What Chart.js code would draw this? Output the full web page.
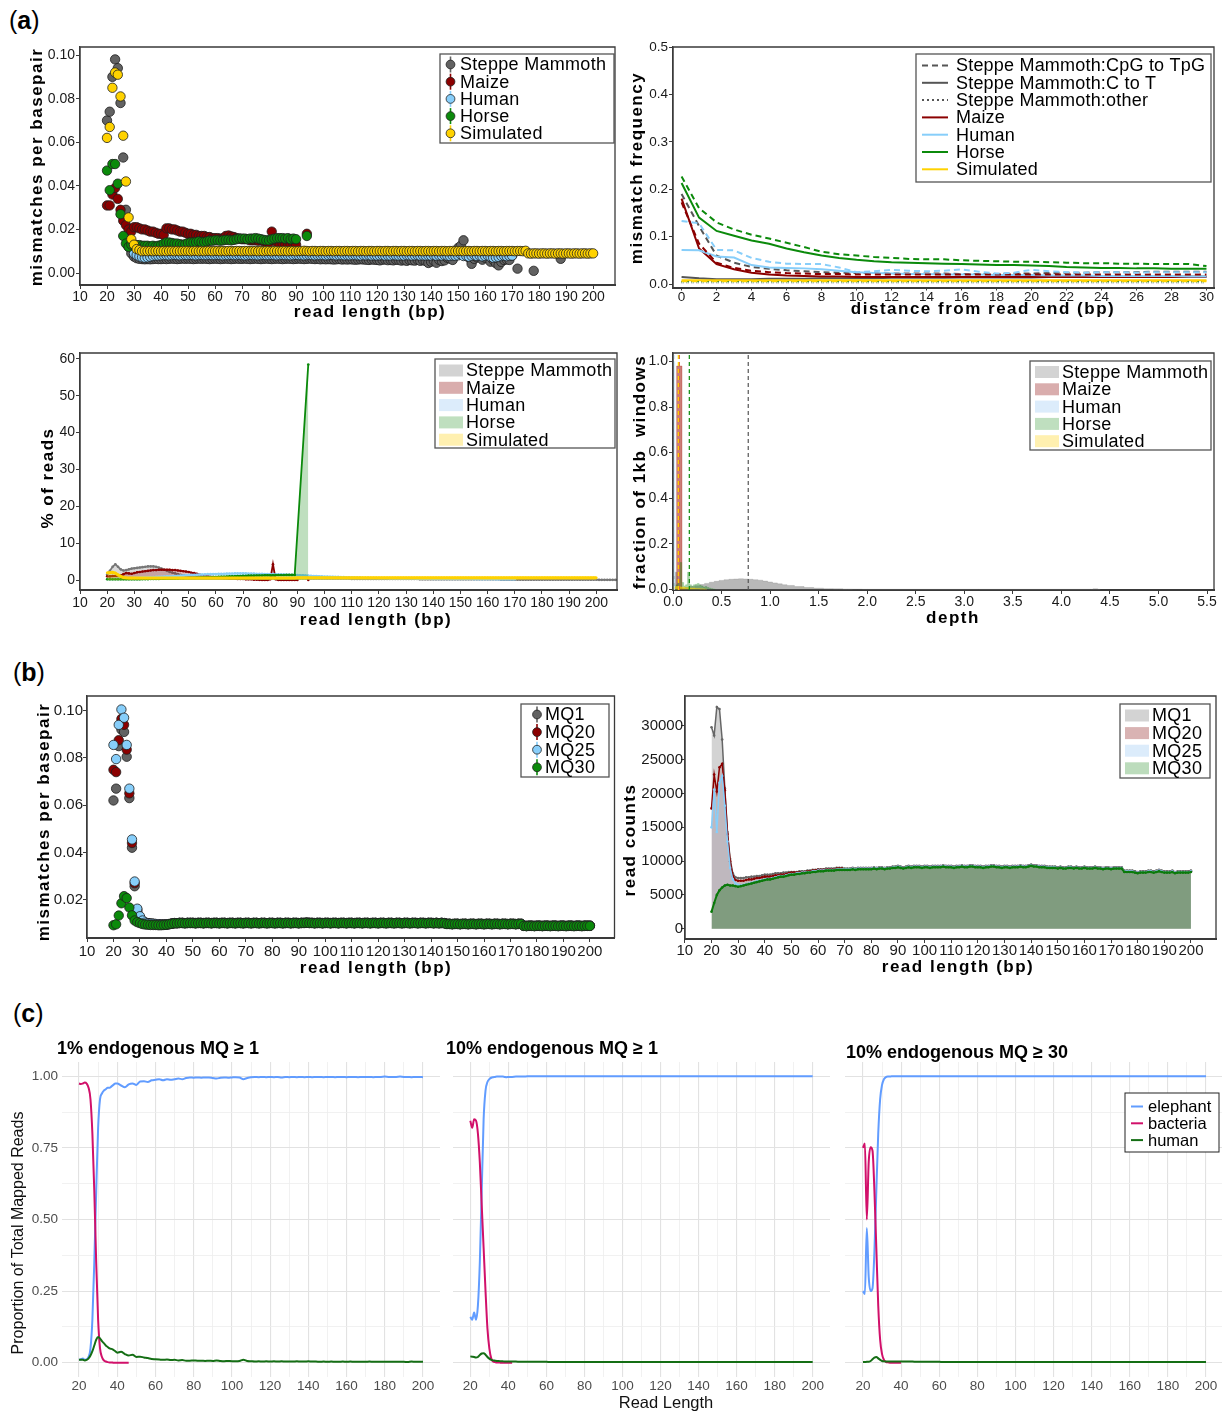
<!DOCTYPE html>
<html><head><meta charset="utf-8">
<script src="https://cdn.jsdelivr.net/npm/chart.js@4/dist/chart.umd.min.js"></script>
<style>
body{margin:0;background:#fff;width:1222px;height:1412px;position:relative;overflow:hidden;font-family:"Liberation Sans",Arial,sans-serif;}
canvas{position:absolute;}
.plab{position:absolute;font-size:25px;line-height:30px;color:#000;font-family:"Liberation Sans",Arial,sans-serif;}
</style></head><body>
<div class="plab" style="left:9px;top:5px">(<b>a</b>)</div>
<div class="plab" style="left:13px;top:657px">(<b>b</b>)</div>
<div class="plab" style="left:13px;top:998px">(<b>c</b>)</div>
<script>
// ---------------- DATA ----------------
const readLengths = [20,21,22,23,24,25,26,27,28,29,30,31,32,33,34,35,36,37,38,39,40,41,42,43,44,45,46,47,48,49,50,51,52,53,54,55,56,57,58,59,60,61,62,63,64,65,66,67,68,69,70,71,72,73,74,75,76,77,78,79,80,81,82,83,84,85,86,87,88,89,90,91,92,93,94,95,96,97,98,99,100,101,102,103,104,105,106,107,108,109,110,111,112,113,114,115,116,117,118,119,120,121,122,123,124,125,126,127,128,129,130,131,132,133,134,135,136,137,138,139,140,141,142,143,144,145,146,147,148,149,150,151,152,153,154,155,156,157,158,159,160,161,162,163,164,165,166,167,168,169,170,171,172,173,174,175,176,177,178,179,180,181,182,183,184,185,186,187,188,189,190,191,192,193,194,195,196,197,198,199,200,201,202,203,204,205,206,207,208,209,210];

// (a) top-left: mismatches per basepair by read length
const a1Steppe = [
.070,.074,.090,.098,.094,.078,.053,.029,.012,.009,
.0075,.0068,.0065,.0064,.0063,.0064,.0063,.0064,.0065,.0064,
.0064,.0065,.0064,.0065,.0066,.0065,.0064,.0065,.0066,.0065,
.0066,.0065,.0064,.0065,.0066,.0065,.0066,.0065,.0064,.0065,
.0066,.0065,.0064,.0065,.0066,.0065,.0064,.0065,.0066,.0065,
.0065,.0066,.0065,.0064,.0065,.0066,.0065,.0064,.0065,.0066,
.0065,.0064,.0065,.0066,.0065,.0064,.0065,.0066,.0065,.0064,
.0065,.0066,.0065,.0064,.0065,.0066,.0065,.0064,.0065,.0063,
.0064,.0063,.0064,.0063,.0062,.0063,.0064,.0062,.0063,.0062,
.0063,.0062,.0061,.0062,.0063,.0062,.0061,.0060,.0062,.0061,
.0060,.0058,.0061,.0062,.0059,.0060,.0058,.0061,.0060,.0057,
.0059,.0056,.0060,.0058,.0057,.0061,.0056,.0059,.0055,.0046,
.0052,.0056,.0047,.0060,.0055,.0058,.0070,.0066,.0060,.0095,
.0115,.0125,.0150,.0085,.0070,.0042,.0065,.0072,.0080,.0061,
.0070,null,.0052,.0060,.0045,.0035,.0051,.0060,.0062,.0060,
.0080,null,.0020,null,null,null,null,null,.0010,null,
null,null,null,null,null,null,null,null,.0065];
const a1Maize = [
.031,.031,.036,.039,.034,.029,.024,.022,.020,.019,
.021,.021,.0205,.020,.020,.0195,.019,.019,.0185,.018,
.018,.0175,.0205,.0205,.020,.020,.0195,.019,.019,.0185,
.018,.018,.0175,.0175,.017,.017,.017,.0165,.0165,.016,
.016,.016,.0158,.016,.017,.0172,.0168,.0165,.016,.0158,
.0155,.0155,.0155,.015,.015,.015,.0148,.015,.0145,.0142,
.014,.019,.015,.014,.013,.0135,.013,.0125,.013,.0135,
.013,null,null,null,.018];
const a1Human = [
null,null,null,null,null,null,null,null,null,null,
.0090,.0082,.0076,.0072,.0070,.0072,.0075,.0078,.0080,.0080,
.0081,.0082,.0082,.0081,.0082,.0083,.0082,.0081,.0082,.0083,
.0082,.0083,.0082,.0081,.0082,.0083,.0082,.0082,.0083,.0082,
.0082,.0083,.0082,.0081,.0082,.0082,.0083,.0082,.0082,.0083,
.0082,.0081,.0082,.0083,.0082,.0082,.0081,.0082,.0083,.0082,
.0082,.0083,.0082,.0081,.0082,.0083,.0082,.0082,.0081,.0082,
.0083,.0082,.0082,.0081,.0082,.0083,.0082,.0081,.0082,.0082,
.0082,.0081,.0082,.0083,.0082,.0081,.0082,.0082,.0081,.0082,
.0081,.0082,.0082,.0081,.0080,.0082,.0081,.0082,.0080,.0081,
.0080,.0081,.0082,.0080,.0081,.0080,.0082,.0081,.0080,.0081,
.0080,.0082,.0081,.0080,.0081,.0082,.0080,.0081,.0080,.0081,
.0080,.0082,.0079,.0081,.0080,.0082,.0080,.0078,.0080,.0079,
.0081,.0085,.0078,.0080,.0075,.0079,.0082,.0078,.0080,.0076,
.0078,.0080,.0075,.0070,.0072,.0074,.0078,.0080,.0077,.0079,
.0080];
const a1Horse = [
.047,.038,.050,.050,.041,.027,.017,.0135,.012,.013,
.013,.0128,.0128,.0125,.0125,.0125,.0122,.0125,.0122,.0125,
.0128,.0135,.014,.014,.0138,.0135,.0135,.0132,.013,.0132,
.0138,.014,.014,.0142,.0145,.0142,.0142,.0145,.0148,.0148,
.015,.015,.0148,.015,.0152,.0152,.015,.0152,.0155,.0158,
.0158,.0158,.0155,.0158,.0158,.016,.0158,.0155,.0152,.015,
.015,.0155,.0158,.016,.016,.016,.0158,.016,.0155,.0158,
.0155,null,null,null,.017];
const a1Simulated = [
.062,.067,.085,.092,.091,.081,.063,.042,.0255,.0155,
.0130,.0110,.0105,.0100,.0101,.0100,.0101,.0100,.0101,.0101,
.0100,.0101,.0100,.0101,.0101,.0100,.0101,.0100,.0101,.0101,
.0101,.0100,.0101,.0101,.0100,.0101,.0100,.0101,.0101,.0100,
.0101,.0101,.0100,.0101,.0100,.0101,.0101,.0100,.0101,.0101,
.0100,.0101,.0101,.0100,.0101,.0101,.0100,.0101,.0100,.0101,
.0101,.0100,.0101,.0101,.0100,.0101,.0101,.0100,.0101,.0101,
.0100,.0101,.0101,.0102,.0101,.0100,.0101,.0101,.0100,.0101,
.0101,.0100,.0101,.0101,.0100,.0101,.0101,.0100,.0101,.0101,
.0100,.0101,.0101,.0100,.0101,.0101,.0100,.0101,.0101,.0100,
.0101,.0101,.0100,.0101,.0101,.0100,.0101,.0101,.0100,.0101,
.0101,.0100,.0101,.0101,.0100,.0101,.0101,.0100,.0101,.0101,
.0100,.0101,.0101,.0100,.0101,.0101,.0100,.0101,.0101,.0100,
.0101,.0101,.0100,.0101,.0101,.0100,.0101,.0101,.0100,.0101,
.0101,.0100,.0101,.0101,.0100,.0101,.0101,.0100,.0101,.0101,
.0101,.0100,.0101,.0101,.0100,.0102,.0090,.0089,.0090,.0090,
.0089,.0090,.0090,.0089,.0090,.0090,.0089,.0090,.0090,.0089,
.0090,.0090,.0089,.0090,.0090,.0089,.0090,.0090,.0089,.0090,
.0090];

// (a) top-right: mismatch frequency by distance from read end
const a2Distance = [0,1,2,3,4,5,6,7,8,9,10,11,12,13,14,15,16,17,18,19,20,21,22,23,24,25,26,27,28,29,30];
const a2SteppeCpG = [.190,.122,.060,.045,.036,.032,.029,.027,.025,.024,.023,.023,.022,.022,.022,.022,.021,.021,.021,.022,.022,.023,.024,.024,.025,.025,.025,.026,.026,.026,.026];
const a2SteppeCT = [.015,.012,.010,.010,.010,.011,.011,.011,.012,.012,.012,.012,.013,.013,.013,.013,.014,.014,.014,.014,.014,.015,.015,.015,.015,.015,.015,.016,.016,.016,.016];
const a2SteppeOther = [.004,.004,.004,.004,.004,.004,.004,.004,.004,.004,.004,.004,.004,.004,.004,.004,.004,.004,.004,.004,.004,.004,.004,.004,.004,.004,.004,.004,.004,.004,.004];
const a2MaizeCpG = [.172,.085,.045,.034,.028,.025,.023,.022,.021,.021,.020,.020,.020,.020,.020,.020,.020,.020,.020,.020,.020,.020,.020,.020,.020,.020,.020,.020,.020,.020,.020];
const a2MaizeCT = [.180,.075,.042,.031,.024,.020,.018,.017,.016,.016,.015,.015,.015,.015,.015,.015,.015,.015,.015,.015,.015,.015,.015,.015,.015,.015,.015,.015,.015,.015,.015];
const a2MaizeOther = [.003,.003,.003,.003,.003,.003,.003,.003,.003,.003,.003,.003,.003,.003,.003,.003,.003,.003,.003,.003,.003,.003,.003,.003,.003,.003,.003,.003,.003,.003,.003];
const a2HumanCpG = [.133,.128,.072,.071,.055,.047,.043,.042,.042,.035,.025,.027,.030,.028,.027,.028,.031,.026,.022,.024,.030,.027,.025,.024,.025,.025,.024,.025,.025,.025,.025];
const a2HumanCT = [.072,.071,.058,.056,.040,.035,.034,.033,.031,.028,.025,.023,.022,.021,.021,.020,.020,.020,.019,.019,.019,.018,.018,.018,.017,.017,.017,.017,.017,.016,.016];
const a2HumanOther = [.003,.003,.003,.003,.003,.003,.003,.003,.003,.003,.003,.003,.003,.003,.003,.003,.003,.003,.003,.003,.003,.003,.003,.003,.003,.003,.003,.003,.003,.003,.003];
const a2HorseCpG = [.227,.160,.130,.115,.104,.096,.087,.078,.068,.063,.060,.057,.055,.053,.052,.052,.050,.049,.048,.047,.047,.046,.045,.044,.044,.043,.043,.042,.042,.042,.038];
const a2HorseCT = [.213,.140,.112,.102,.092,.085,.075,.067,.060,.055,.051,.048,.046,.045,.044,.043,.042,.041,.040,.040,.039,.038,.036,.035,.034,.034,.033,.033,.032,.032,.032];
const a2HorseOther = [.004,.004,.004,.004,.004,.004,.004,.004,.004,.004,.004,.004,.004,.004,.004,.004,.004,.004,.004,.004,.004,.004,.004,.004,.004,.004,.004,.004,.004,.004,.004];
const a2SimCpG = [.006,.006,.006,.006,.006,.006,.006,.006,.006,.006,.006,.006,.006,.006,.006,.006,.006,.006,.006,.006,.006,.006,.006,.006,.006,.006,.006,.006,.006,.006,.006];
const a2SimCT = [.008,.008,.008,.008,.008,.008,.008,.008,.008,.008,.008,.008,.008,.008,.008,.008,.008,.008,.008,.008,.008,.008,.008,.008,.008,.008,.008,.008,.008,.008,.008];
const a2SimOther = [.002,.002,.002,.002,.002,.002,.002,.002,.002,.002,.002,.002,.002,.002,.002,.002,.002,.002,.002,.002,.002,.002,.002,.002,.002,.002,.002,.002,.002,.002,.002];

// (a) middle-left: % of reads by read length
const a3Steppe = [
1.5,2.5,3.6,4.3,3.6,2.9,2.6,2.7,2.9,3.1,
3.2,3.3,3.4,3.5,3.6,3.7,3.7,3.7,3.6,3.4,
3.1,2.8,2.5,2.2,2.0,1.8,1.6,1.4,1.3,1.2,
1.1,1.0,1.0,.9,.9,.9,.8,.8,.8,.8,
.8,.8,.8,.7,.7,.7,.7,.7,.7,.7,
.7,.7,.6,.6,.6,.6,.6,.6,.6,.6,
.6,.6,.5,.5,.5,.5,.5,.5,.5,.5,
.5,.5,.5,.5,.4,.4,.4,.4,.4,.4,
.4,.4,.4,.4,.4,.4,.4,.4,.4,.4,
.3,.3,.3,.3,.3,.3,.3,.3,.3,.3,
.3,.3,.3,.3,.3,.3,.3,.3,.3,.3,
.3,.3,.3,.3,.3,.2,.2,.2,.2,.2,
.2,.2,.2,.2,.2,.2,.2,.2,.2,.2,
.2,.2,.2,.2,.2,.2,.2,.2,.2,.2,
.2,.2,.2,.2,.2,.1,.1,.1,.1,.1,
.1,.1,.1,.1,.1,.1,.1,.1,.1,.1,
.1,.1,.1,.1,.1,.1,.1,.1,.1,.1,
.1,.1,.1,.1,.1,.1,.1,.1,.1,.1,
.1,.05,.05,.05,.05,.05,.05,.05,.05,.05,.05];
const a3Maize = [
1.0,1.0,1.1,1.1,1.0,1.2,1.6,1.9,1.8,1.7,
1.9,2.1,2.2,2.3,2.4,2.5,2.6,2.7,2.7,2.8,
2.8,2.8,2.8,2.8,2.7,2.7,2.6,2.5,2.4,2.3,
2.2,2.0,1.9,1.7,1.5,1.3,1.1,1.0,.9,.8,
.7,.6,.6,.5,.5,.4,.4,.4,.3,.3,
.3,.2,.2,.2,.1,.1,.05,0,0,0,
.2,4.3,.2,0,0,0,0,0,0,0,
0,null,null,null,0];
const a3Human = [
.3,.3,.3,.35,.4,.4,.45,.5,.5,.55,
.6,.6,.65,.7,.7,.75,.8,.8,.85,.9,
.9,.95,1.0,1.0,1.05,1.1,1.15,1.2,1.25,1.3,
1.35,1.4,1.4,1.45,1.5,1.5,1.55,1.6,1.6,1.65,
1.65,1.7,1.7,1.7,1.75,1.75,1.75,1.8,1.8,1.8,
1.8,1.8,1.75,1.75,1.75,1.7,1.7,1.7,1.65,1.65,
1.6,1.6,1.55,1.55,1.5,1.5,1.45,1.45,1.4,1.4,
1.35,1.3,1.3,1.25,1.2,1.15,1.1,1.1,1.05,1.0,
.95,.95,.9,.9,.85,.85,.8,.8,.75,.75,
.7,.7,.65,.65,.6,.6,.6,.55,.55,.55,
.5,.5,.5,.5,.45,.45,.45,.45,.4,.4,
.4,.4,.4,.4,.35,.35,.35,.35,.35,.35,
.3,.3,.3,.3,.3,.3,.3,.3,.3,.3,
.3,.3,.3,.3,.3,.25,.25,.25,.25,.25,
.25,.25,.25,.2,.2,.2,.2,.2,.2,.2,
.2];
const a3Horse = [
.2,.2,.2,.2,.2,.2,.2,.2,.2,.2,
.2,.2,.2,.25,.25,.25,.3,.3,.3,.3,
.35,.35,.4,.4,.4,.45,.45,.5,.5,.55,
.55,.6,.6,.65,.65,.7,.7,.75,.75,.8,
.8,.85,.9,.9,.95,1.0,1.0,1.05,1.1,1.1,
1.15,1.15,1.2,1.2,1.2,1.25,1.25,1.25,1.3,1.3,
1.3,1.3,1.35,1.35,1.35,1.35,1.4,1.4,1.4,1.4,
null,null,null,null,58.5];
const a3Simulated = [
2.0,2.0,2.1,1.9,1.4,1.0,.7,.6,.55,.55,
.55,.55,.55,.55,.55,.55,.55,.55,.55,.55,
.55,.55,.55,.55,.55,.55,.55,.55,.55,.55,
.55,.55,.55,.55,.55,.55,.55,.55,.55,.55,
.55,.55,.55,.55,.55,.55,.55,.55,.55,.55,
.55,.55,.55,.55,.55,.55,.55,.55,.55,.55,
.55,.55,.55,.55,.55,.55,.55,.55,.55,.55,
.6,.6,.6,.6,.6,.6,.6,.6,.6,.6,
.6,.6,.6,.6,.6,.6,.6,.6,.6,.6,
.6,.6,.6,.6,.6,.6,.6,.6,.6,.6,
.6,.6,.6,.6,.6,.6,.6,.6,.6,.6,
.6,.6,.6,.6,.6,.6,.6,.6,.6,.6,
.6,.6,.6,.6,.6,.6,.6,.6,.6,.6,
.6,.6,.6,.6,.6,.6,.6,.6,.6,.6,
.6,.6,.6,.6,.6,.6,.6,.6,.6,.6,
.6,.6,.6,.6,.6,.6,.6,.6,.6,.6,
.6,.6,.6,.6,.6,.6,.6,.6,.6,.6,
.6,.6,.6,.6,.6,.6,.6,.6,.6,.6,
.6];

// (a) middle-right: fraction of 1kb windows by depth (histogram bin centres)
const a4SteppeDepth = [0.00,0.03,0.06,0.10,0.15,0.20,0.25,0.30,0.35,0.40,0.45,0.50,0.55,0.60,0.65,0.70,0.75,0.80,0.85,0.90,0.95,1.00,1.05,1.10,1.15,1.20,1.30,1.40,1.50,1.60,1.70,1.80,1.90,2.00,4.30,4.35,4.40];
const a4SteppeFrac  = [0,.075,.004,.005,.008,.012,.016,.021,.026,.031,.035,.039,.042,.044,.045,.046,.045,.044,.042,.040,.036,.032,.028,.024,.020,.017,.012,.008,.005,.003,.002,.001,.0005,0,0,.002,0];
const a4MaizeDepth = [0.01,0.065,0.12];
const a4MaizeFrac  = [0,.98,0];
const a4HumanDepth = [0.00,0.04];
const a4HumanFrac  = [1.0,0];
const a4HorseDepth = [0.00,0.02,0.04,0.06,0.08,0.10,0.12,0.14,0.16,0.18,0.20,0.22,0.24,0.26,0.28,0.30,0.32,0.34,0.36,0.38,0.40,0.42,0.44];
const a4HorseFrac  = [.005,.01,.02,.03,.118,.03,.015,.02,.075,.02,.015,.02,.022,.025,.018,.015,.01,.012,.008,.005,.003,.001,0];
const a4SimDepth = [0.00,0.05,0.10,0.15,0.20,0.25,0.30,0.35];
const a4SimFrac  = [.01,.012,.01,.008,.006,.004,.002,0];
const a4MeanDepth = { steppe: 0.775, human: 0.012, horse: 0.168, simulated: 0.055, maize: 0.065 };

// (b) left: mismatches per basepair by mapping quality
const b1MQ1 = [
.062,.067,.085,.092,.091,.0805,.063,.042,.0257,.0150,
.0118,.0108,.0102,.0100,.0099,.0098,.0097,.0096,.0095,.0095,
.0095,.0097,.0099,.0101,.0101,.0102,.0102,.0101,.0102,.0102,
.0102,.0101,.0102,.0102,.0101,.0102,.0102,.0101,.0102,.0102,
.0101,.0102,.0102,.0101,.0102,.0102,.0101,.0102,.0102,.0101,
.0102,.0102,.0101,.0102,.0102,.0101,.0102,.0102,.0101,.0102,
.0102,.0101,.0102,.0102,.0101,.0102,.0102,.0101,.0102,.0102,
.0101,.0102,.0102,.0103,.0102,.0102,.0101,.0102,.0102,.0101,
.0102,.0102,.0101,.0102,.0102,.0101,.0102,.0102,.0101,.0102,
.0102,.0101,.0102,.0102,.0101,.0102,.0102,.0101,.0102,.0102,
.0101,.0102,.0102,.0101,.0102,.0102,.0101,.0102,.0102,.0101,
.0102,.0102,.0101,.0102,.0102,.0101,.0102,.0102,.0101,.0102,
.0102,.0101,.0102,.0101,.0102,.0101,.0098,.0098,.0097,.0098,
.0098,.0097,.0098,.0098,.0097,.0098,.0098,.0097,.0098,.0098,
.0097,.0098,.0098,.0097,.0098,.0098,.0097,.0098,.0098,.0097,
.0098,.0098,.0097,.0098,.0098,.0090,.0089,.0090,.0090,.0089,
.0090,.0090,.0089,.0090,.0090,.0089,.0090,.0090,.0089,.0090,
.0090,.0089,.0090,.0090,.0089,.0090,.0090,.0089,.0090,.0090,
.0090];
const b1MQ20 = [
.075,.074,.0875,.0965,.094,.0835,.065,.044,.027,.0158,
.0125,.0110,.0104,.0101,.0099,.0098,.0097,.0096,.0095,.0095,
.0095,.0097,.0099,.0101,.0101,.0102,.0102,.0101,.0102,.0102,
.0102,.0101,.0102,.0102,.0101,.0102,.0102,.0101,.0102,.0102,
.0101,.0102,.0102,.0101,.0102,.0102,.0101,.0102,.0102,.0101,
.0102,.0102,.0101,.0102,.0102,.0101,.0102,.0102,.0101,.0102,
.0102,.0101,.0102,.0102,.0101,.0102,.0102,.0101,.0102,.0102,
.0101,.0102,.0102,.0103,.0102,.0102,.0101,.0102,.0102,.0101,
.0102,.0102,.0101,.0102,.0102,.0101,.0102,.0102,.0101,.0102,
.0102,.0101,.0102,.0102,.0101,.0102,.0102,.0101,.0102,.0102,
.0101,.0102,.0102,.0101,.0102,.0102,.0101,.0102,.0102,.0101,
.0102,.0102,.0101,.0102,.0102,.0101,.0102,.0102,.0101,.0102,
.0102,.0101,.0102,.0101,.0102,.0101,.0098,.0098,.0097,.0098,
.0098,.0097,.0098,.0098,.0097,.0098,.0098,.0097,.0098,.0098,
.0097,.0098,.0098,.0097,.0098,.0098,.0097,.0098,.0098,.0097,
.0098,.0098,.0097,.0098,.0098,.0090,.0089,.0090,.0090,.0089,
.0090,.0090,.0089,.0090,.0090,.0089,.0090,.0090,.0089,.0090,
.0090,.0089,.0090,.0090,.0089,.0090,.0090,.0089,.0090,.0090,
.0090];
const b1MQ25 = [
.0855,.0795,.094,.1005,.097,.0855,.067,.0455,.0277,.0162,
.0130,.0112,.0103,.0100,.0099,.0098,.0097,.0096,.0095,.0095,
.0095,.0097,.0099,.0101,.0101,.0102,.0102,.0101,.0102,.0102,
.0102,.0101,.0102,.0102,.0101,.0102,.0102,.0101,.0102,.0102,
.0101,.0102,.0102,.0101,.0102,.0102,.0101,.0102,.0102,.0101,
.0102,.0102,.0101,.0102,.0102,.0101,.0102,.0102,.0101,.0102,
.0102,.0101,.0102,.0102,.0101,.0102,.0102,.0101,.0102,.0102,
.0101,.0102,.0102,.0103,.0102,.0102,.0101,.0102,.0102,.0101,
.0102,.0102,.0101,.0102,.0102,.0101,.0102,.0102,.0101,.0102,
.0102,.0101,.0102,.0102,.0101,.0102,.0102,.0101,.0102,.0102,
.0101,.0102,.0102,.0101,.0102,.0102,.0101,.0102,.0102,.0101,
.0102,.0102,.0101,.0102,.0102,.0101,.0102,.0102,.0101,.0102,
.0102,.0101,.0102,.0101,.0102,.0101,.0098,.0098,.0097,.0098,
.0098,.0097,.0098,.0098,.0097,.0098,.0098,.0097,.0098,.0098,
.0097,.0098,.0098,.0097,.0098,.0098,.0097,.0098,.0098,.0097,
.0098,.0098,.0097,.0098,.0098,.0090,.0089,.0090,.0090,.0089,
.0090,.0090,.0089,.0090,.0090,.0089,.0090,.0090,.0089,.0090,
.0090,.0089,.0090,.0090,.0089,.0090,.0090,.0089,.0090,.0090,
.0090];
const b1MQ30 = [
.0092,.0096,.0133,.0185,.0215,.0207,.0167,.0134,.0112,.0105,
.0101,.0097,.0095,.0094,.0093,.0093,.0093,.0092,.0092,.0093,
.0094,.0096,.0098,.0100,.0100,.0101,.0101,.0100,.0101,.0101,
.0101,.0100,.0101,.0101,.0100,.0101,.0101,.0100,.0101,.0101,
.0100,.0101,.0101,.0100,.0101,.0101,.0100,.0101,.0101,.0100,
.0101,.0101,.0100,.0101,.0101,.0100,.0101,.0101,.0100,.0101,
.0101,.0100,.0101,.0101,.0100,.0101,.0101,.0100,.0101,.0101,
.0100,.0101,.0101,.0102,.0101,.0101,.0100,.0101,.0101,.0100,
.0101,.0101,.0100,.0101,.0101,.0100,.0101,.0101,.0100,.0101,
.0101,.0100,.0101,.0101,.0100,.0101,.0101,.0100,.0101,.0101,
.0100,.0101,.0101,.0100,.0101,.0101,.0100,.0101,.0101,.0100,
.0101,.0101,.0100,.0101,.0101,.0100,.0101,.0101,.0100,.0101,
.0101,.0100,.0101,.0100,.0101,.0100,.0097,.0097,.0096,.0097,
.0097,.0096,.0097,.0097,.0096,.0097,.0097,.0096,.0097,.0097,
.0096,.0097,.0097,.0096,.0097,.0097,.0096,.0097,.0097,.0096,
.0097,.0097,.0096,.0097,.0097,.0089,.0088,.0089,.0089,.0088,
.0089,.0089,.0088,.0089,.0089,.0088,.0089,.0089,.0088,.0089,
.0089,.0088,.0089,.0089,.0088,.0089,.0089,.0088,.0089,.0089,
.0089];

// (b) right: read counts by mapping quality
const b2MQ1 = [
29800,28600,32800,32500,28000,20800,14300,10300,8200,7600,
7500,7500,7500,7600,7600,7700,7700,7800,7800,7900,
8000,8000,8000,8100,8200,8200,8200,8300,8300,8400,
8400,8400,8400,8500,8500,8500,8600,8600,8700,8700,
8800,8800,8800,8900,8900,8900,8900,9000,9000,9000,
8900,8900,8900,9000,8900,9000,9000,9000,9000,9000,
9000,9100,9000,9100,9100,9000,9100,9100,9200,9200,
9300,9200,9100,9200,9300,9200,9300,9300,9300,9200,
9300,9300,9200,9300,9300,9300,9300,9400,9300,9300,
9300,9200,9300,9300,9400,9300,9300,9400,9400,9300,
9300,9300,9200,9300,9300,9400,9400,9300,9300,9200,
9300,9300,9200,9300,9300,9300,9400,9300,9300,9400,
9500,9400,9400,9300,9300,9300,9200,9200,9200,9200,
9100,9200,9100,9100,9200,9200,9100,9200,9100,9100,
9200,9100,9100,9100,9200,9100,9100,9000,9100,9100,
9000,9100,9100,9100,9100,8600,8600,8600,8600,8500,
8400,8500,8500,8500,8600,8600,8500,8600,8700,8600,
8500,8500,8500,8600,8400,8500,8500,8500,8500,8500,
8600];
const b2MQ20 = [
17800,22800,20300,23900,24400,20500,14000,10000,7800,7200,
7100,7100,7100,7200,7300,7300,7400,7500,7500,7600,
7700,7700,7700,7800,7900,7900,8000,8000,8100,8200,
8300,8300,8300,8300,8400,8400,8500,8500,8600,8600,
8700,8700,8700,8800,8800,8800,8800,8900,8900,8900,
8800,8800,8800,8900,8800,8900,8900,8900,8900,8900,
8900,9000,8900,9000,9000,8900,9000,9000,9100,9100,
9200,9100,9000,9100,9200,9100,9200,9200,9200,9100,
9200,9200,9100,9200,9200,9200,9200,9300,9200,9200,
9200,9100,9200,9200,9300,9200,9200,9300,9300,9200,
9200,9200,9100,9200,9200,9300,9300,9200,9200,9100,
9200,9200,9100,9200,9200,9200,9300,9200,9200,9300,
9400,9300,9300,9200,9200,9200,9100,9100,9100,9100,
9000,9100,9000,9000,9100,9100,9000,9100,9000,9000,
9100,9000,9000,9000,9100,9000,9000,8900,9000,9000,
8900,9000,9000,9000,9000,8500,8500,8500,8500,8400,
8300,8400,8400,8400,8500,8500,8400,8500,8600,8500,
8400,8400,8400,8500,8300,8400,8400,8400,8400,8400,
8500];
const b2MQ25 = [
15000,20600,14300,21600,22600,18200,12900,9000,7300,6700,
6500,6400,6500,6600,6700,6800,6900,7000,7100,7200,
7300,7400,7400,7500,7600,7700,7800,7800,7900,8000,
8100,8100,8200,8200,8300,8300,8400,8400,8500,8500,
8600,8600,8600,8700,8700,8700,8700,8800,8800,8800,
8800,8800,8800,8900,8800,8900,8900,8900,8900,8900,
8900,9000,8900,9000,9000,8900,9000,9000,9100,9100,
9200,9100,9000,9100,9200,9100,9200,9200,9200,9100,
9200,9200,9100,9200,9200,9200,9200,9300,9200,9200,
9200,9100,9200,9200,9300,9200,9200,9300,9300,9200,
9200,9200,9100,9200,9200,9300,9300,9200,9200,9100,
9200,9200,9100,9200,9200,9200,9300,9200,9200,9300,
9400,9300,9300,9200,9200,9200,9100,9100,9100,9100,
9000,9100,9000,9000,9100,9100,9000,9100,9000,9000,
9100,9000,9000,9000,9100,9000,9000,8900,9000,9000,
8900,9000,9000,9000,9000,8500,8500,8500,8500,8400,
8300,8400,8400,8400,8500,8500,8400,8500,8600,8500,
8400,8400,8400,8500,8300,8400,8400,8400,8400,8400,
8500];
const b2MQ30 = [
2500,3800,5000,5700,6100,6400,6500,6400,6400,6300,
6200,6300,6400,6500,6600,6700,6800,6900,7000,7100,
7200,7300,7300,7400,7500,7600,7700,7700,7800,7900,
8000,8000,8100,8100,8200,8200,8300,8300,8400,8400,
8500,8500,8500,8600,8600,8600,8600,8700,8700,8700,
8700,8700,8700,8800,8700,8800,8800,8800,8800,8800,
8800,8900,8800,8900,8900,8800,8900,8900,9000,9000,
9100,9000,8900,9000,9100,9000,9100,9100,9100,9000,
9100,9100,9000,9100,9100,9100,9100,9200,9100,9100,
9100,9000,9100,9100,9200,9100,9100,9200,9200,9100,
9100,9100,9000,9100,9100,9200,9200,9100,9100,9000,
9100,9100,9000,9100,9100,9100,9200,9100,9100,9200,
9300,9200,9200,9100,9100,9100,9000,9000,9000,9000,
8900,9000,8900,8900,9000,9000,8900,9000,8900,8900,
9000,8900,8900,8900,9000,8900,8900,8800,8900,8900,
8800,8900,8900,8900,8900,8400,8400,8400,8400,8300,
8200,8300,8300,8300,8400,8400,8300,8400,8500,8400,
8300,8300,8300,8400,8200,8300,8300,8300,8300,8300,
8400];

// (c) proportion of total mapped reads
const cReadLength = [20,21,22,23,24,25,26,27,28,29,30,31,32,33,34,35,36,37,38,39,40,42,44,46,48,50,52,54,56,58,60,62,64,66,68,70,72,74,76,78,80,82,84,86,88,90,92,94,96,98,100,102,104,106,108,110,112,114,116,118,120,122,124,126,128,130,132,134,136,138,140,142,144,146,148,150,152,154,156,158,160,162,164,166,168,170,172,174,176,178,180,182,184,186,188,190,192,194,196,198,200];
const c1Elephant = [.010,.012,.015,.010,.012,.020,.050,.150,.350,.600,.820,.920,.940,.950,.955,.960,.960,.965,.970,.975,.975,
.968,.962,.972,.975,.970,.982,.983,.980,.986,.988,
.990,.986,.990,.988,.990,.992,.990,.994,.996,.995,
.996,.995,.996,.996,.994,.992,.995,.996,.995,.996,
.997,.996,.990,.994,.997,.998,.997,.998,.997,.998,
.997,.998,.996,.998,.997,.998,.997,.998,.997,.998,
.997,.998,.998,.997,.998,.998,.997,.998,.998,.997,
.998,.998,.997,.998,.998,.998,.997,.998,.998,.999,
.998,.998,.998,.999,.998,.998,.997,.998,.998,.997];
const c1Bacteria = [.975,.973,.975,.978,.975,.960,.920,.800,.600,.350,.150,.050,.020,.008,.004,.002,.001,.001,0,0,0,0,0,0];
const c1Human = [.010,.010,.010,.008,.010,.015,.025,.040,.060,.080,.090,.085,.075,.068,.060,.055,.050,.048,.045,.040,.035,
.038,.030,.025,.028,.020,.021,.018,.016,.013,.012,
.011,.010,.011,.009,.010,.008,.009,.007,.007,.008,
.007,.007,.006,.007,.006,.008,.006,.005,.006,.005,
.005,.006,.010,.006,.005,.004,.005,.004,.005,.004,
.005,.004,.005,.004,.004,.004,.005,.004,.004,.005,
.004,.004,.003,.004,.003,.004,.003,.003,.004,.003,
.004,.003,.003,.003,.003,.004,.003,.003,.003,.003,
.003,.003,.003,.003,.003,.002,.004,.003,.003,.003];
const c2Elephant = [.160,.150,.175,.150,.200,.350,.600,.850,.950,.980,.990,.995,.997,.998,.999,.999,.999,.999,.998,.997,.998,
.998,.999,.999,.999,1,1,1,1,1,1,
1,1,1,1,1,1,1,1,1,1,
1,1,1,1,1,1,1,1,1,1,
1,1,1,1,1,1,1,1,1,1,
1,1,1,1,1,1,1,1,1,1,
1,1,1,1,1,1,1,1,1,1,
1,1,1,1,1,1,1,1,1,1,
1,1,1,1,1,1,1,1,1,1];
const c2Bacteria = [.845,.820,.850,.845,.800,.700,.550,.400,.250,.120,.050,.015,.004,.002,.001,.001,0,0,0,0,0,0];
const c2Human = [.022,.021,.020,.018,.020,.027,.032,.033,.028,.020,.014,.010,.008,.007,.006,.006,.005,.005,.004,.004,.004,
.004,.004,.003,.003,.003,.003,.003,.003,.003,.003,
.002,.002,.002,.002,.002,.002,.002,.002,.002,.002,
.002,.002,.002,.002,.002,.002,.002,.002,.002,.002,
.002,.002,.002,.002,.002,.002,.002,.002,.002,.002,
.002,.002,.002,.002,.002,.002,.002,.002,.002,.002,
.002,.002,.002,.002,.002,.002,.002,.002,.002,.002,
.002,.002,.002,.002,.002,.002,.002,.002,.002,.002,
.002,.002,.002,.002,.002,.002,.002,.002,.002,.002];
const c3Elephant = [.250,.240,.470,.300,.250,.260,.390,.600,.800,.920,.970,.990,.997,.999,.999,1,1,1,1,1,1,
1,1,1,1,1,1,1,1,1,1,
1,1,1,1,1,1,1,1,1,1,
1,1,1,1,1,1,1,1,1,1,
1,1,1,1,1,1,1,1,1,1,
1,1,1,1,1,1,1,1,1,1,
1,1,1,1,1,1,1,1,1,1,
1,1,1,1,1,1,1,1,1,1,
1,1,1,1,1,1,1,1,1,1];
const c3Bacteria = [.750,.765,.500,.700,.752,.740,.600,.400,.200,.080,.030,.010,.003,.001,0,0,0,0,0,0,0];
const c3Human = [.002,.002,.003,.003,.006,.012,.018,.020,.015,.010,.006,.005,.004,.004,.004,.004,.004,.004,.004,.004,.004,
.004,.004,.004,.003,.003,.003,.003,.003,.003,.003,
.002,.002,.002,.002,.002,.002,.002,.002,.002,.002,
.002,.002,.002,.002,.002,.002,.002,.002,.002,.002,
.002,.002,.002,.002,.002,.002,.002,.002,.002,.002,
.002,.002,.002,.002,.002,.002,.002,.002,.002,.002,
.002,.002,.002,.002,.002,.002,.002,.002,.002,.002,
.002,.002,.002,.002,.002,.002,.002,.002,.002,.002,
.002,.002,.002,.002,.002,.002,.002,.002,.002,.002];

// tick values and labels
const readLengthTicks = [10,20,30,40,50,60,70,80,90,100,110,120,130,140,150,160,170,180,190,200];
const readLengthTickLabels = ['10','20','30','40','50','60','70','80','90','100','110','120','130','140','150','160','170','180','190','200'];
const a1YTicks = [0,0.02,0.04,0.06,0.08,0.10];
const a1YLabels = ['0.00','0.02','0.04','0.06','0.08','0.10'];
const a2XTicks = [0,2,4,6,8,10,12,14,16,18,20,22,24,26,28,30];
const a2XLabels = ['0','2','4','6','8','10','12','14','16','18','20','22','24','26','28','30'];
const a2YTicks = [0,0.1,0.2,0.3,0.4,0.5];
const a2YLabels = ['0.0','0.1','0.2','0.3','0.4','0.5'];
const a3YTicks = [0,10,20,30,40,50,60];
const a3YLabels = ['0','10','20','30','40','50','60'];
const a4XTicks = [0,0.5,1,1.5,2,2.5,3,3.5,4,4.5,5,5.5];
const a4XLabels = ['0.0','0.5','1.0','1.5','2.0','2.5','3.0','3.5','4.0','4.5','5.0','5.5'];
const a4YTicks = [0,0.2,0.4,0.6,0.8,1.0];
const a4YLabels = ['0.0','0.2','0.4','0.6','0.8','1.0'];
const b1YTicks = [0.02,0.04,0.06,0.08,0.10];
const b1YLabels = ['0.02','0.04','0.06','0.08','0.10'];
const b2YTicks = [0,5000,10000,15000,20000,25000,30000];
const b2YLabels = ['0','5000','10000','15000','20000','25000','30000'];
const cXTicks = [20,30,40,50,60,70,80,90,100,110,120,130,140,150,160,170,180,190,200];
const cXLabels = ['20','','40','','60','','80','','100','','120','','140','','160','','180','','200'];
const cYTicks = [0,0.125,0.25,0.375,0.5,0.625,0.75,0.875,1.0];
const cYLabels = ['0.00','','0.25','','0.50','','0.75','','1.00'];

// ---------------- RENDERING ----------------
const FONT = '"Liberation Sans", Arial, Helvetica, sans-serif';
const C = { steppe:'#626262', maize:'#8B0000', human:'#87CEFA', horse:'#0B8A0B', sim:'#FFD200' };

function series(xs, ys) { const out = []; for (let i = 0; i < ys.length; i++) out.push({ x: xs[i], y: ys[i] }); return out; }

function makeDeco(spec) {
  return {
    id: 'deco',
    afterDraw(chart) {
      const ctx = chart.ctx, ca = chart.chartArea, ox = spec.ox, oy = spec.oy;
      ctx.save();
      if (spec.frame) {
        ctx.strokeStyle = '#3a3a3a'; ctx.lineWidth = 1.3; ctx.setLineDash([]);
        ctx.beginPath();
        ctx.moveTo(ca.left, ca.bottom); ctx.lineTo(ca.left, ca.top); ctx.lineTo(ca.right, ca.top); ctx.lineTo(ca.right, ca.bottom);
        ctx.stroke();
      }
      (spec.texts || []).forEach(t => {
        ctx.save();
        ctx.font = t.font; ctx.fillStyle = t.color || '#000';
        try { ctx.letterSpacing = t.ls || '0px'; } catch (e) {}
        ctx.textAlign = t.align || 'center'; ctx.textBaseline = 'middle';
        ctx.translate(t.x - ox, t.y - oy);
        if (t.rot) ctx.rotate(-Math.PI / 2);
        ctx.fillText(t.text, 0, 0);
        ctx.restore();
      });
      if (spec.legend) {
        const L = spec.legend;
        const bx = L.x - ox, by = L.y - oy;
        ctx.fillStyle = '#fff'; ctx.fillRect(bx, by, L.w, L.h);
        ctx.strokeStyle = L.border || '#555'; ctx.lineWidth = L.bw || 1.3; ctx.strokeRect(bx, by, L.w, L.h);
        ctx.font = L.font; ctx.textAlign = 'left'; ctx.textBaseline = 'middle';
        try { ctx.letterSpacing = L.ls || '0px'; } catch (e) {}
        L.items.forEach((it, r) => {
          const ds = chart.data.datasets[it.ds];
          const cy = L.row0 - oy + r * L.rowH;
          const mx = L.mx - ox;
          ctx.save();
          if (it.mark === 'pt') {
            ctx.strokeStyle = ds.pointBackgroundColor; ctx.lineWidth = 1.6;
            ctx.beginPath(); ctx.moveTo(mx, cy - 8); ctx.lineTo(mx, cy + 8); ctx.stroke();
            ctx.beginPath(); ctx.arc(mx, cy, 4.4, 0, Math.PI * 2); ctx.fillStyle = ds.pointBackgroundColor; ctx.fill();
            ctx.strokeStyle = '#222'; ctx.lineWidth = 0.8; ctx.stroke();
          } else if (it.mark === 'line') {
            ctx.strokeStyle = ds.borderColor; ctx.lineWidth = it.lw || 2; ctx.setLineDash(ds.borderDash || []);
            ctx.beginPath(); ctx.moveTo(mx - L.half, cy); ctx.lineTo(mx + L.half, cy); ctx.stroke();
          } else {
            ctx.fillStyle = it.swatch; ctx.fillRect(mx - L.half, cy - 6, 2 * L.half, 12);
          }
          ctx.restore();
          ctx.fillStyle = '#000';
          ctx.fillText(ds.label, L.tx - ox, cy + 1);
        });
      }
      ctx.restore();
    }
  };
}

function mk(box, area, cfg, spec) {
  const c = document.createElement('canvas');
  c.width = box.w; c.height = box.h;
  Object.assign(c.style, { left: box.l + 'px', top: box.t + 'px', width: box.w + 'px', height: box.h + 'px' });
  document.body.appendChild(c);
  const o = cfg.options;
  o.responsive = false; o.animation = false; o.devicePixelRatio = 1;
  o.layout = { padding: { left: 0, top: area.t - box.t, right: box.l + box.w - area.r, bottom: 0 } };
  o.plugins = Object.assign({ legend: { display: false }, tooltip: { enabled: false } }, o.plugins || {});
  const xh = box.t + box.h - area.b, yw = area.l - box.l;
  o.scales.x.afterFit = s => { s.height = xh; s.paddingLeft = 0; s.paddingRight = 0; };
  o.scales.y.afterFit = s => { s.width = yw; s.paddingTop = 0; s.paddingBottom = 0; };
  spec.ox = box.l; spec.oy = box.t;
  cfg.plugins = [makeDeco(spec)];
  return new Chart(c, cfg);
}

function boxAxis(min, max, ticks, labels, fs, pad, bw, tl) {
  return {
    type: 'linear', min, max,
    afterBuildTicks: s => { s.ticks = ticks.map(v => ({ value: v })); },
    grid: { drawOnChartArea: false, drawTicks: true, tickLength: tl || 4, tickWidth: 1, tickColor: '#3a3a3a' },
    border: { display: true, color: '#3a3a3a', width: bw },
    ticks: { autoSkip: false, maxRotation: 0, minRotation: 0, font: { family: FONT, size: fs }, color: '#1a1a1a', padding: pad, callback: (v, i) => labels[i] }
  };
}
function ggAxis(min, max, ticks, labels, show, pad) {
  return {
    type: 'linear', min, max,
    afterBuildTicks: s => { s.ticks = ticks.map(v => ({ value: v })); },
    grid: { drawTicks: false, color: c => (c.index % 2 === 0 ? '#e2e2e2' : '#ededed'), lineWidth: c => (c.index % 2 === 0 ? 1.1 : 0.8) },
    border: { display: false },
    ticks: { display: show, autoSkip: false, maxRotation: 0, minRotation: 0, font: { family: FONT, size: 13.5 }, color: '#4d4d4d', padding: pad, callback: (v, i) => labels[i] }
  };
}

const TITLE = 'bold 17px ' + FONT;
const LEG = '18px ' + FONT;

// ---- a1
function ptSet(label, ys, color, order) {
  return { type: 'scatter', label, data: series(readLengths, ys), order, pointRadius: 4.7, pointBackgroundColor: color, backgroundColor: color, pointBorderColor: '#1e1e1e', pointBorderWidth: 0.8 };
}
mk({ l: 0, t: 40, w: 628, h: 285 }, { l: 80, t: 47, r: 615, b: 285 }, {
  type: 'scatter',
  data: { datasets: [
    ptSet('Steppe Mammoth', a1Steppe, C.steppe, 4),
    ptSet('Maize', a1Maize, C.maize, 3),
    ptSet('Human', a1Human, C.human, 2),
    ptSet('Horse', a1Horse, C.horse, 1),
    ptSet('Simulated', a1Simulated, C.sim, 0)
  ] },
  options: { scales: {
    x: boxAxis(10, 208.1, readLengthTicks, readLengthTickLabels, 14, -0.7, 2),
    y: boxAxis(-0.0055, 0.1037, a1YTicks, a1YLabels, 14, 1, 1.3)
  } }
}, {
  frame: true,
  texts: [
    { text: 'mismatches per basepair', x: 37, y: 167, rot: true, font: TITLE, ls: '1.5px' },
    { text: 'read length (bp)', x: 370, y: 312, font: TITLE, ls: '1.5px' }
  ],
  legend: { x: 440, y: 54, w: 174, h: 89, font: LEG, ls: '0.3px', row0: 64.5, rowH: 17.2, mx: 450.5, tx: 460, half: 12,
    items: [{ ds: 0, mark: 'pt' }, { ds: 1, mark: 'pt' }, { ds: 2, mark: 'pt' }, { ds: 3, mark: 'pt' }, { ds: 4, mark: 'pt' }] }
});

// ---- a2
function lnSet(label, ys, color, dash, order, w) {
  return { type: 'line', label, data: series(a2Distance, ys), order, borderColor: color, borderWidth: w || 2, borderDash: dash, pointRadius: 0, fill: false, tension: 0 };
}
const DASH = [6, 4], DOT = [2, 3];
mk({ l: 616, t: 40, w: 606, h: 285 }, { l: 673, t: 47, r: 1214, b: 288 }, {
  type: 'line',
  data: { datasets: [
    lnSet('Steppe Mammoth:CpG to TpG', a2SteppeCpG, '#555555', DASH, 14),
    lnSet('Steppe Mammoth:C to T', a2SteppeCT, '#555555', [], 13),
    lnSet('Steppe Mammoth:other', a2SteppeOther, '#555555', DOT, 12),
    lnSet('Maize', a2MaizeCT, C.maize, [], 11),
    lnSet('Human', a2HumanCT, C.human, [], 10),
    lnSet('Horse', a2HorseCT, '#0B8A0B', [], 9),
    lnSet('Simulated', a2SimCT, C.sim, [], 8),
    lnSet('Maize:CpG to TpG', a2MaizeCpG, C.maize, DASH, 7),
    lnSet('Maize:other', a2MaizeOther, C.maize, DOT, 6),
    lnSet('Human:CpG to TpG', a2HumanCpG, C.human, DASH, 5),
    lnSet('Human:other', a2HumanOther, C.human, DOT, 4),
    lnSet('Horse:CpG to TpG', a2HorseCpG, '#0B8A0B', DASH, 3),
    lnSet('Horse:other', a2HorseOther, '#0B8A0B', DOT, 2),
    lnSet('Simulated:CpG to TpG', a2SimCpG, C.sim, DASH, 1),
    lnSet('Simulated:other', a2SimOther, '#ffffff', DOT, 0, 1.5)
  ] },
  options: { scales: {
    x: boxAxis(-0.49, 30.43, a2XTicks, a2XLabels, 13.5, -1.5, 2, 2.5),
    y: boxAxis(-0.0084, 0.5, a2YTicks, a2YLabels, 13.5, 1, 1.3)
  } }
}, {
  frame: true,
  texts: [
    { text: 'mismatch frequency', x: 637, y: 168, rot: true, font: TITLE, ls: '1.5px' },
    { text: 'distance from read end (bp)', x: 983, y: 309, font: TITLE, ls: '1.5px' }
  ],
  legend: { x: 916, y: 54, w: 295, h: 128, font: LEG, ls: '0.2px', row0: 65.5, rowH: 17.3, mx: 935, tx: 956, half: 13,
    items: [{ ds: 0, mark: 'line' }, { ds: 1, mark: 'line' }, { ds: 2, mark: 'line' }, { ds: 3, mark: 'line' }, { ds: 4, mark: 'line' }, { ds: 5, mark: 'line' }, { ds: 6, mark: 'line' }] }
});

// ---- a3
function areaSet(label, ys, line, fill, order, w, extra) {
  return Object.assign({ type: 'line', label, data: series(readLengths, ys), order, borderColor: line, backgroundColor: fill, borderWidth: w, pointRadius: 1.3, pointBackgroundColor: line, pointBorderWidth: 0, fill: 'origin', tension: 0 }, extra || {});
}
mk({ l: 0, t: 325, w: 628, h: 315 }, { l: 80, t: 353, r: 617, b: 590 }, {
  type: 'line',
  data: { datasets: [
    areaSet('Steppe Mammoth', a3Steppe, '#777777', 'rgba(128,128,128,0.3)', 4, 1.8),
    areaSet('Maize', a3Maize, C.maize, 'rgba(139,0,0,0.25)', 3, 1.8),
    areaSet('Human', a3Human, C.human, 'rgba(135,206,250,0.35)', 2, 1.8),
    areaSet('Horse', a3Horse, '#0B8A0B', 'rgba(0,128,0,0.25)', 1, 1.8, { spanGaps: true }),
    areaSet('Simulated', a3Simulated, C.sim, 'rgba(255,215,0,0.3)', 0, 3)
  ] },
  options: { scales: {
    x: boxAxis(10, 207.6, readLengthTicks, readLengthTickLabels, 14, 0.6, 2),
    y: boxAxis(-2.7, 61.6, a3YTicks, a3YLabels, 14, 1, 1.3)
  } }
}, {
  frame: true,
  texts: [
    { text: '% of reads', x: 48, y: 478, rot: true, font: TITLE, ls: '1.5px' },
    { text: 'read length (bp)', x: 376, y: 620, font: TITLE, ls: '1.5px' }
  ],
  legend: { x: 435, y: 359, w: 180, h: 89, font: LEG, ls: '0.3px', row0: 370.5, rowH: 17.3, mx: 451, tx: 466, half: 12,
    items: [{ ds: 0, mark: 'rect', swatch: '#d3d3d3' }, { ds: 1, mark: 'rect', swatch: '#d9adad' }, { ds: 2, mark: 'rect', swatch: '#dcecfb' }, { ds: 3, mark: 'rect', swatch: '#bfdfbf' }, { ds: 4, mark: 'rect', swatch: '#fff0b0' }] }
});

// ---- a4
function histSet(label, xs, ys, fill, order) {
  return { type: 'line', label, data: series(xs, ys), order, borderColor: fill, backgroundColor: fill, borderWidth: 0.5, pointRadius: 0, fill: 'origin', stepped: 'middle' };
}
function meanSet(label, x, color) {
  return { type: 'line', label, data: [{ x, y: -0.003 }, { x, y: 1.037 }], order: -1, borderColor: color, borderWidth: 1.2, borderDash: [4, 3], pointRadius: 0, fill: false };
}
mk({ l: 616, t: 325, w: 606, h: 315 }, { l: 673, t: 353, r: 1214, b: 590 }, {
  type: 'line',
  data: { datasets: [
    histSet('Steppe Mammoth', a4SteppeDepth, a4SteppeFrac, 'rgba(140,140,140,0.62)', 4),
    histSet('Maize', a4MaizeDepth, a4MaizeFrac, 'rgba(170,40,30,0.6)', 3),
    histSet('Human', a4HumanDepth, a4HumanFrac, 'rgba(135,206,250,0.3)', 2),
    histSet('Horse', a4HorseDepth, a4HorseFrac, 'rgba(0,128,0,0.35)', 1),
    histSet('Simulated', a4SimDepth, a4SimFrac, 'rgba(255,210,0,0.6)', 0),
    meanSet('Steppe Mammoth mean', a4MeanDepth.steppe, '#555555'),
    meanSet('Human mean', a4MeanDepth.human, '#cfe9fb'),
    meanSet('Horse mean', a4MeanDepth.horse, '#0B8A0B'),
    meanSet('Simulated mean', a4MeanDepth.simulated, '#FFD200'),
    meanSet('Maize mean', a4MeanDepth.maize, '#d86a3a')
  ] },
  options: { scales: {
    x: boxAxis(0, 5.572, a4XTicks, a4XLabels, 14, -0.7, 2),
    y: boxAxis(-0.003, 1.037, a4YTicks, a4YLabels, 14, 1, 1.3)
  } }
}, {
  frame: true,
  texts: [
    { text: 'fraction of 1kb  windows', x: 640, y: 472, rot: true, font: TITLE, ls: '1.5px' },
    { text: 'depth', x: 953, y: 618, font: TITLE, ls: '1.5px' }
  ],
  legend: { x: 1030, y: 361, w: 181, h: 89, font: LEG, ls: '0.3px', row0: 372, rowH: 17.3, mx: 1047, tx: 1062, half: 12,
    items: [{ ds: 0, mark: 'rect', swatch: '#d3d3d3' }, { ds: 1, mark: 'rect', swatch: '#d9adad' }, { ds: 2, mark: 'rect', swatch: '#dcecfb' }, { ds: 3, mark: 'rect', swatch: '#bfdfbf' }, { ds: 4, mark: 'rect', swatch: '#fff0b0' }] }
});

// ---- b1
mk({ l: 0, t: 690, w: 620, h: 295 }, { l: 87, t: 696, r: 617, b: 938 }, {
  type: 'scatter',
  data: { datasets: [
    ptSet('MQ1', b1MQ1, C.steppe, 3),
    ptSet('MQ20', b1MQ20, C.maize, 2),
    ptSet('MQ25', b1MQ25, C.human, 1),
    ptSet('MQ30', b1MQ30, C.horse, 0)
  ] },
  options: { scales: {
    x: boxAxis(10, 209.3, readLengthTicks, readLengthTickLabels, 15, 0.7, 2),
    y: boxAxis(0.0038, 0.1062, b1YTicks, b1YLabels, 15, 0, 1.3)
  } }
}, {
  frame: true,
  texts: [
    { text: 'mismatches per basepair', x: 44, y: 822, rot: true, font: TITLE, ls: '1.5px' },
    { text: 'read length (bp)', x: 376, y: 968, font: TITLE, ls: '1.5px' }
  ],
  legend: { x: 521, y: 704, w: 88, h: 73, font: LEG, ls: '0.3px', row0: 714.5, rowH: 17.6, mx: 537, tx: 545, half: 12,
    items: [{ ds: 0, mark: 'pt' }, { ds: 1, mark: 'pt' }, { ds: 2, mark: 'pt' }, { ds: 3, mark: 'pt' }] }
});

// ---- b2
function cntSet(label, ys, line, fill, order, w) {
  return { type: 'line', label, data: series(readLengths, ys), order, borderColor: line, backgroundColor: fill, borderWidth: w, pointRadius: 1.3, pointBackgroundColor: line, pointBorderWidth: 0, fill: 'origin', tension: 0 };
}
mk({ l: 620, t: 690, w: 602, h: 295 }, { l: 685, t: 696, r: 1216, b: 939 }, {
  type: 'line',
  data: { datasets: [
    cntSet('MQ1', b2MQ1, '#666666', 'rgba(128,128,128,0.35)', 3, 1.5),
    cntSet('MQ20', b2MQ20, C.maize, 'rgba(139,0,0,0.15)', 2, 1.5),
    cntSet('MQ25', b2MQ25, C.human, 'rgba(135,206,250,0.15)', 1, 1.5),
    cntSet('MQ30', b2MQ30, '#0B7A0B', 'rgba(0,100,0,0.33)', 0, 2)
  ] },
  options: { scales: {
    x: boxAxis(10.05, 209.4, readLengthTicks, readLengthTickLabels, 15, -1, 2),
    y: boxAxis(-1522, 34433, b2YTicks, b2YLabels, 15, -2, 1.3)
  } }
}, {
  frame: true,
  texts: [
    { text: 'read counts', x: 630, y: 840, rot: true, font: TITLE, ls: '1.5px' },
    { text: 'read length (bp)', x: 958, y: 967, font: TITLE, ls: '1.5px' }
  ],
  legend: { x: 1120, y: 704, w: 90, h: 74, font: LEG, ls: '0.3px', row0: 715.5, rowH: 17.6, mx: 1137, tx: 1152, half: 12,
    items: [{ ds: 0, mark: 'rect', swatch: '#d3d3d3' }, { ds: 1, mark: 'rect', swatch: '#d9b3b3' }, { ds: 2, mark: 'rect', swatch: '#dcecfb' }, { ds: 3, mark: 'rect', swatch: '#bcdcbc' }] }
});

// ---- c
const CC = { elephant: '#619CFF', bacteria: '#D1106A', human: '#146E14' };
function cSet(label, ys, color, order) {
  return { type: 'line', label, data: series(cReadLength, ys), order, borderColor: color, borderWidth: 2, pointRadius: 0, fill: false, cubicInterpolationMode: 'monotone' };
}
const CTITLE = 'bold 18px ' + FONT;
mk({ l: 0, t: 1030, w: 442, h: 382 }, { l: 62, t: 1062, r: 440, b: 1377 }, {
  type: 'line',
  data: { datasets: [cSet('elephant', c1Elephant, CC.elephant, 2), cSet('bacteria', c1Bacteria, CC.bacteria, 1), cSet('human', c1Human, CC.human, 0)] },
  options: { scales: { x: ggAxis(11.1, 208.9, cXTicks, cXLabels, true, 1.2), y: ggAxis(-0.05, 1.05, cYTicks, cYLabels, true, 4) } }
}, {
  texts: [
    { text: '1% endogenous MQ \u2265 1', x: 57, y: 1049, align: 'left', font: CTITLE },
    { text: 'Proportion of Total Mapped Reads', x: 19, y: 1233, rot: true, font: '16px ' + FONT, color: '#111' }
  ]
});
mk({ l: 442, t: 1030, w: 390, h: 382 }, { l: 453, t: 1062, r: 830, b: 1377 }, {
  type: 'line',
  data: { datasets: [cSet('elephant', c2Elephant, CC.elephant, 2), cSet('bacteria', c2Bacteria, CC.bacteria, 1), cSet('human', c2Human, CC.human, 0)] },
  options: { scales: { x: ggAxis(10.9, 209.1, cXTicks, cXLabels, true, 1.2), y: ggAxis(-0.05, 1.05, cYTicks, cYLabels, false, 0) } }
}, {
  texts: [
    { text: '10% endogenous MQ \u2265 1', x: 446, y: 1049, align: 'left', font: CTITLE },
    { text: 'Read Length', x: 666, y: 1403, font: '16.5px ' + FONT, color: '#111' }
  ]
});
mk({ l: 832, t: 1030, w: 390, h: 382 }, { l: 845, t: 1062, r: 1222, b: 1377 }, {
  type: 'line',
  data: { datasets: [cSet('elephant', c3Elephant, CC.elephant, 2), cSet('bacteria', c3Bacteria, CC.bacteria, 1), cSet('human', c3Human, CC.human, 0)] },
  options: { scales: { x: ggAxis(10.56, 208.4, cXTicks, cXLabels, true, 1.2), y: ggAxis(-0.05, 1.05, cYTicks, cYLabels, false, 0) } }
}, {
  texts: [
    { text: '10% endogenous MQ \u2265 30', x: 846, y: 1053, align: 'left', font: CTITLE }
  ],
  legend: { x: 1125, y: 1093, w: 94, h: 59, font: '16.5px ' + FONT, border: '#222', bw: 1, row0: 1106.5, rowH: 16.8, mx: 1137, tx: 1148, half: 6,
    items: [{ ds: 0, mark: 'line' }, { ds: 1, mark: 'line' }, { ds: 2, mark: 'line' }] }
});
</script>
</body></html>
